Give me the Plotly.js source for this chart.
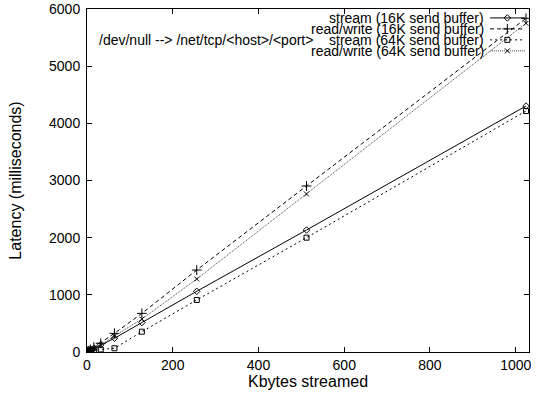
<!DOCTYPE html>
<html>
<head>
<meta charset="utf-8">
<script src="https://cdn.plot.ly/plotly-3.0.1.min.js"></script>
<style>html,body{margin:0;padding:0;background:#fff;}#chart{width:537px;height:394px;}</style>
</head>
<body>
<div id="chart"></div>
<script>
// Data (Kbytes streamed vs latency in ms)
const kbytes = [1, 2, 4, 8, 16, 32, 64, 128, 256, 512, 1024];
const stream16 = [5, 9, 17, 34, 66, 125, 240, 515, 1062, 2134, 4303];
const rw16 = [6, 11, 22, 45, 85, 152, 326, 676, 1434, 2904, 5837];
const stream64 = [3, 5, 8, 12, 20, 45, 65, 355, 910, 2000, 4216];
const rw64 = [5, 9, 16, 30, 60, 120, 280, 575, 1277, 2764, 5750];
const seriesNames = ["stream (16K send buffer)", "read/write (16K send buffer)", "stream (64K send buffer)", "read/write (64K send buffer)"];
const xTicks = [0, 200, 400, 600, 800, 1000];
const yTicks = [0, 1000, 2000, 3000, 4000, 5000, 6000];
const chartTitle = "/dev/null --> /net/tcp/<host>/<port>";

const FONT = "Liberation Sans, Arial, Helvetica, sans-serif";
const styles = [
  {dash: "solid", color: "#000", symbol: "diamond-open", size: 5},
  {dash: "4px,3px", color: "#000", symbol: "cross-thin-open", size: 7},
  {dash: "2px,3px", color: "#000", symbol: "square-open", size: 5},
  {dash: "1px,1px", color: "#444", symbol: "x-thin-open", size: 5}
];
const seriesData = [stream16, rw16, stream64, rw64];

const traces = seriesData.map((ys, i) => ({
  type: "scatter", mode: "lines+markers", x: kbytes, y: ys, name: seriesNames[i],
  line: {color: styles[i].color, width: 1, dash: styles[i].dash},
  marker: {symbol: styles[i].symbol, size: styles[i].size, color: "#000", line: {color: "#000", width: 1}},
  showlegend: false, hoverinfo: "skip"
}));

// Custom gnuplot-style legend (text right-aligned, sample on the right)
const rowY = [0.974, 0.942, 0.910, 0.878];
const sx0 = 0.912, sx1 = 0.991, sxm = 0.951;
const shapes = [], annotations = [];
seriesNames.forEach((n, i) => {
  annotations.push({xref: "paper", yref: "paper", x: 0.903, y: rowY[i], xanchor: "right", yanchor: "middle",
    text: n, showarrow: false, font: {family: FONT, size: 14, color: "#000"}});
  shapes.push({type: "line", xref: "paper", yref: "paper", x0: sx0, x1: sx1, y0: rowY[i], y1: rowY[i],
    line: {color: styles[i].color, width: 1, dash: styles[i].dash}});
  traces.push({type: "scatter", mode: "markers", xaxis: "x2", yaxis: "y2", x: [sxm], y: [rowY[i]],
    marker: {symbol: styles[i].symbol, size: styles[i].size, color: "#000", line: {color: "#000", width: 1}},
    showlegend: false, hoverinfo: "skip"});
});
annotations.push({xref: "paper", yref: "paper", x: 0.022, y: rowY[2], xanchor: "left", yanchor: "middle",
  text: chartTitle.replace(/</g, "&lt;").replace(/>/g, "&gt;"), showarrow: false, font: {family: FONT, size: 14, color: "#000"}});

const layout = {
  width: 537, height: 394,
  margin: {l: 87, r: 8, t: 9, b: 42},
  paper_bgcolor: "#fff", plot_bgcolor: "#fff",
  font: {family: FONT, size: 14, color: "#000"},
  showlegend: false,
  xaxis: {range: [0, 1031], tickvals: xTicks, ticktext: xTicks.map(String), ticks: "inside", ticklen: 5,
    tickcolor: "#000", showline: true, linecolor: "#000", linewidth: 1, mirror: "ticks", showgrid: false, zeroline: false,
    ticklabelstandoff: 0,
    title: {text: "Kbytes streamed", font: {family: FONT, size: 16}, standoff: 0}, tickfont: {family: FONT, size: 14}},
  yaxis: {range: [0, 6000], tickvals: yTicks, ticktext: yTicks.map(String), ticks: "inside", ticklen: 5,
    tickcolor: "#000", showline: true, linecolor: "#000", linewidth: 1, mirror: "ticks", showgrid: false, zeroline: false,
    ticklabelstandoff: 3,
    title: {text: "Latency (milliseconds)", font: {family: FONT, size: 16}, standoff: 23}, tickfont: {family: FONT, size: 14}},
  xaxis2: {overlaying: "x", range: [0, 1], visible: false, fixedrange: true},
  yaxis2: {overlaying: "y", range: [0, 1], visible: false, fixedrange: true},
  shapes: shapes, annotations: annotations
};

Plotly.newPlot("chart", traces, layout, {displayModeBar: false, staticPlot: true});
</script>
</body>
</html>
